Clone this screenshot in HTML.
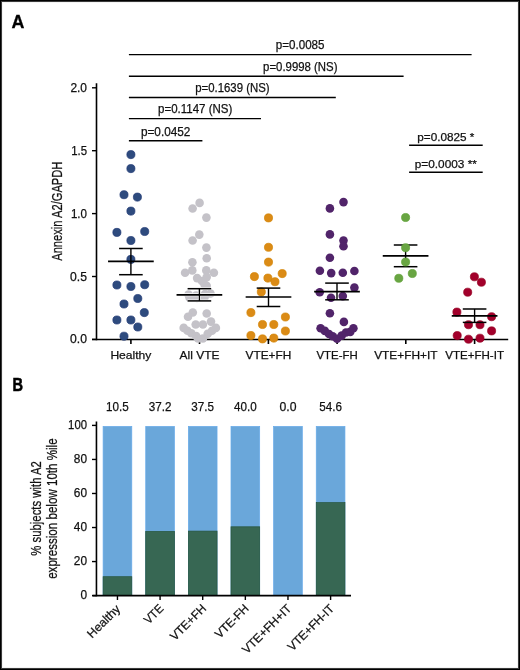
<!DOCTYPE html>
<html><head><meta charset="utf-8"><style>
html,body{margin:0;padding:0;background:#fff;}
body{width:520px;height:670px;overflow:hidden;}
.frame{position:absolute;left:0;top:0;width:520px;height:670px;box-sizing:border-box;border:1px solid #000;box-shadow:inset 0 0 0 1px #3a3a3a, inset 0 0 0 2px #f4f4f4;}
svg{position:absolute;left:0;top:0;will-change:transform;}
svg text{font-family:"Liberation Sans", sans-serif;}
svg text.t{stroke:#111;stroke-width:0.25px;}
</style></head><body>
<svg width="520" height="670" viewBox="0 0 520 670">
<text class="t" x="11.5" y="28.0" font-size="18.3" text-anchor="start" font-weight="bold" fill="#000" textLength="12.9" lengthAdjust="spacingAndGlyphs" style="stroke:#000;stroke-width:0.3px">A</text>
<line x1="128.9" y1="54.6" x2="471.6" y2="54.6" stroke="#000" stroke-width="1.45"/>
<text class="t" x="300.15" y="49.4" font-size="12.1" text-anchor="middle" font-weight="normal" fill="#111" textLength="48.7" lengthAdjust="spacingAndGlyphs">p=0.0085</text>
<line x1="128.9" y1="76.15" x2="403.6" y2="76.15" stroke="#000" stroke-width="1.45"/>
<text class="t" x="300.3" y="70.95" font-size="12.1" text-anchor="middle" font-weight="normal" fill="#111" textLength="74.4" lengthAdjust="spacingAndGlyphs">p=0.9998 (NS)</text>
<line x1="128.9" y1="97.4" x2="335.8" y2="97.4" stroke="#000" stroke-width="1.45"/>
<text class="t" x="232.4" y="92.2" font-size="12.1" text-anchor="middle" font-weight="normal" fill="#111" textLength="74.4" lengthAdjust="spacingAndGlyphs">p=0.1639 (NS)</text>
<line x1="128.9" y1="118.6" x2="261.0" y2="118.6" stroke="#000" stroke-width="1.45"/>
<text class="t" x="195.2" y="113.4" font-size="12.1" text-anchor="middle" font-weight="normal" fill="#111" textLength="74.2" lengthAdjust="spacingAndGlyphs">p=0.1147 (NS)</text>
<line x1="128.9" y1="140.8" x2="202.4" y2="140.8" stroke="#000" stroke-width="1.45"/>
<text class="t" x="165.65" y="135.6" font-size="12.1" text-anchor="middle" font-weight="normal" fill="#111" textLength="49.5" lengthAdjust="spacingAndGlyphs">p=0.0452</text>
<line x1="409.1" y1="145.15" x2="482.7" y2="145.15" stroke="#000" stroke-width="1.45"/>
<text class="t" x="445.8" y="140.8" font-size="10.9" text-anchor="middle" font-weight="normal" fill="#111" textLength="57.1" lengthAdjust="spacingAndGlyphs">p=0.0825 *</text>
<line x1="409.1" y1="172.3" x2="482.7" y2="172.3" stroke="#000" stroke-width="1.45"/>
<text class="t" x="445.8" y="167.7" font-size="10.9" text-anchor="middle" font-weight="normal" fill="#111" textLength="62.1" lengthAdjust="spacingAndGlyphs">p=0.0003 **</text>
<line x1="96.5" y1="83.3" x2="96.5" y2="340.2" stroke="#000" stroke-width="1.6"/>
<line x1="92.0" y1="339.5" x2="508.2" y2="339.5" stroke="#000" stroke-width="1.55"/>
<line x1="92.0" y1="87.79999999999998" x2="96.5" y2="87.79999999999998" stroke="#000" stroke-width="1.4"/>
<text class="t" x="87.0" y="91.8" font-size="12" text-anchor="end" font-weight="normal" fill="#111" textLength="16.6" lengthAdjust="spacingAndGlyphs">2.0</text>
<line x1="92.0" y1="150.7" x2="96.5" y2="150.7" stroke="#000" stroke-width="1.4"/>
<text class="t" x="87.0" y="154.7" font-size="12" text-anchor="end" font-weight="normal" fill="#111" textLength="15.8" lengthAdjust="spacingAndGlyphs">1.5</text>
<line x1="92.0" y1="213.59999999999997" x2="96.5" y2="213.59999999999997" stroke="#000" stroke-width="1.4"/>
<text class="t" x="87.0" y="217.6" font-size="12" text-anchor="end" font-weight="normal" fill="#111" textLength="16.1" lengthAdjust="spacingAndGlyphs">1.0</text>
<line x1="92.0" y1="276.5" x2="96.5" y2="276.5" stroke="#000" stroke-width="1.4"/>
<text class="t" x="87.0" y="280.5" font-size="12" text-anchor="end" font-weight="normal" fill="#111" textLength="16.9" lengthAdjust="spacingAndGlyphs">0.5</text>
<line x1="92.0" y1="339.4" x2="96.5" y2="339.4" stroke="#000" stroke-width="1.4"/>
<text class="t" x="87.0" y="343.4" font-size="12" text-anchor="end" font-weight="normal" fill="#111" textLength="16.9" lengthAdjust="spacingAndGlyphs">0.0</text>
<text class="t" transform="translate(62.2,211.2) rotate(-90)" x="0" y="0" font-size="14.8" text-anchor="middle" fill="#111" textLength="99.2" lengthAdjust="spacingAndGlyphs">Annexin A2/GAPDH</text>
<line x1="130.9" y1="339.5" x2="130.9" y2="344.0" stroke="#000" stroke-width="1.6"/>
<text class="t" x="130.9" y="358.7" font-size="11.5" text-anchor="middle" font-weight="normal" fill="#111" textLength="41.0" lengthAdjust="spacingAndGlyphs">Healthy</text>
<line x1="199.5" y1="339.5" x2="199.5" y2="344.0" stroke="#000" stroke-width="1.6"/>
<text class="t" x="199.5" y="358.7" font-size="11.5" text-anchor="middle" font-weight="normal" fill="#111" textLength="39.8" lengthAdjust="spacingAndGlyphs">All VTE</text>
<line x1="268.4" y1="339.5" x2="268.4" y2="344.0" stroke="#000" stroke-width="1.6"/>
<text class="t" x="268.4" y="358.7" font-size="11.5" text-anchor="middle" font-weight="normal" fill="#111" textLength="45.8" lengthAdjust="spacingAndGlyphs">VTE+FH</text>
<line x1="337.1" y1="339.5" x2="337.1" y2="344.0" stroke="#000" stroke-width="1.6"/>
<text class="t" x="337.1" y="358.7" font-size="11.5" text-anchor="middle" font-weight="normal" fill="#111" textLength="41.2" lengthAdjust="spacingAndGlyphs">VTE-FH</text>
<line x1="405.8" y1="339.5" x2="405.8" y2="344.0" stroke="#000" stroke-width="1.6"/>
<text class="t" x="405.8" y="358.7" font-size="11.5" text-anchor="middle" font-weight="normal" fill="#111" textLength="63.3" lengthAdjust="spacingAndGlyphs">VTE+FH+IT</text>
<line x1="474.6" y1="339.5" x2="474.6" y2="344.0" stroke="#000" stroke-width="1.6"/>
<text class="t" x="474.6" y="358.7" font-size="11.5" text-anchor="middle" font-weight="normal" fill="#111" textLength="58.8" lengthAdjust="spacingAndGlyphs">VTE+FH-IT</text>
<circle cx="130.9" cy="154.6" r="4.05" fill="#2e4b7e" stroke="#1f3874" stroke-width="0.7"/>
<circle cx="130.9" cy="168.6" r="4.05" fill="#2e4b7e" stroke="#1f3874" stroke-width="0.7"/>
<circle cx="124.0" cy="194.7" r="4.05" fill="#2e4b7e" stroke="#1f3874" stroke-width="0.7"/>
<circle cx="137.4" cy="197.1" r="4.05" fill="#2e4b7e" stroke="#1f3874" stroke-width="0.7"/>
<circle cx="130.9" cy="211.1" r="4.05" fill="#2e4b7e" stroke="#1f3874" stroke-width="0.7"/>
<circle cx="116.9" cy="232.4" r="4.05" fill="#2e4b7e" stroke="#1f3874" stroke-width="0.7"/>
<circle cx="144.7" cy="231.5" r="4.05" fill="#2e4b7e" stroke="#1f3874" stroke-width="0.7"/>
<circle cx="130.9" cy="240.5" r="4.05" fill="#2e4b7e" stroke="#1f3874" stroke-width="0.7"/>
<circle cx="130.9" cy="259.4" r="4.05" fill="#2e4b7e" stroke="#1f3874" stroke-width="0.7"/>
<circle cx="116.9" cy="285" r="4.05" fill="#2e4b7e" stroke="#1f3874" stroke-width="0.7"/>
<circle cx="130.9" cy="286.5" r="4.05" fill="#2e4b7e" stroke="#1f3874" stroke-width="0.7"/>
<circle cx="144.7" cy="284.7" r="4.05" fill="#2e4b7e" stroke="#1f3874" stroke-width="0.7"/>
<circle cx="137.8" cy="298.5" r="4.05" fill="#2e4b7e" stroke="#1f3874" stroke-width="0.7"/>
<circle cx="124" cy="304" r="4.05" fill="#2e4b7e" stroke="#1f3874" stroke-width="0.7"/>
<circle cx="144.3" cy="312.6" r="4.05" fill="#2e4b7e" stroke="#1f3874" stroke-width="0.7"/>
<circle cx="116.9" cy="320" r="4.05" fill="#2e4b7e" stroke="#1f3874" stroke-width="0.7"/>
<circle cx="130.9" cy="320" r="4.05" fill="#2e4b7e" stroke="#1f3874" stroke-width="0.7"/>
<circle cx="137.8" cy="327" r="4.05" fill="#2e4b7e" stroke="#1f3874" stroke-width="0.7"/>
<circle cx="124" cy="336.2" r="4.05" fill="#2e4b7e" stroke="#1f3874" stroke-width="0.7"/>
<line x1="108.05000000000001" y1="261.4" x2="153.75" y2="261.4" stroke="#000" stroke-width="1.7"/>
<line x1="119.10000000000001" y1="248.5" x2="142.70000000000002" y2="248.5" stroke="#000" stroke-width="1.5"/>
<line x1="119.10000000000001" y1="274.7" x2="142.70000000000002" y2="274.7" stroke="#000" stroke-width="1.5"/>
<line x1="130.9" y1="248.5" x2="130.9" y2="274.7" stroke="#000" stroke-width="1.4"/>
<circle cx="199.6" cy="202.9" r="4.3" fill="#c4c2c8"/>
<circle cx="192.6" cy="208.5" r="4.3" fill="#c4c2c8"/>
<circle cx="206.4" cy="217.6" r="4.3" fill="#c4c2c8"/>
<circle cx="199.3" cy="234.6" r="4.3" fill="#c4c2c8"/>
<circle cx="192.6" cy="240.5" r="4.3" fill="#c4c2c8"/>
<circle cx="206.4" cy="247.6" r="4.3" fill="#c4c2c8"/>
<circle cx="206.7" cy="258.2" r="4.3" fill="#c4c2c8"/>
<circle cx="192.4" cy="262.2" r="4.3" fill="#c4c2c8"/>
<circle cx="185.1" cy="272.8" r="4.3" fill="#c4c2c8"/>
<circle cx="192.3" cy="270.4" r="4.3" fill="#c4c2c8"/>
<circle cx="206.3" cy="270.4" r="4.3" fill="#c4c2c8"/>
<circle cx="213.9" cy="272.8" r="4.3" fill="#c4c2c8"/>
<circle cx="197.1" cy="278.1" r="4.3" fill="#c4c2c8"/>
<circle cx="206.7" cy="277.1" r="4.3" fill="#c4c2c8"/>
<circle cx="201.9" cy="281" r="4.3" fill="#c4c2c8"/>
<circle cx="206.7" cy="285.8" r="4.3" fill="#c4c2c8"/>
<circle cx="188.5" cy="294.5" r="4.3" fill="#c4c2c8"/>
<circle cx="196" cy="295.5" r="4.3" fill="#c4c2c8"/>
<circle cx="205" cy="294" r="4.3" fill="#c4c2c8"/>
<circle cx="210.5" cy="293.5" r="4.3" fill="#c4c2c8"/>
<circle cx="189.5" cy="297.5" r="4.3" fill="#c4c2c8"/>
<circle cx="197" cy="298" r="4.3" fill="#c4c2c8"/>
<circle cx="204.5" cy="297.5" r="4.3" fill="#c4c2c8"/>
<circle cx="204.5" cy="284.5" r="4.3" fill="#c4c2c8"/>
<circle cx="192.8" cy="312.5" r="4.3" fill="#c4c2c8"/>
<circle cx="188" cy="316.8" r="4.3" fill="#c4c2c8"/>
<circle cx="206.7" cy="313.5" r="4.3" fill="#c4c2c8"/>
<circle cx="211" cy="321.6" r="4.3" fill="#c4c2c8"/>
<circle cx="195.7" cy="324.5" r="4.3" fill="#c4c2c8"/>
<circle cx="202.9" cy="324.5" r="4.3" fill="#c4c2c8"/>
<circle cx="183.7" cy="327.9" r="4.3" fill="#c4c2c8"/>
<circle cx="187.5" cy="330.8" r="4.3" fill="#c4c2c8"/>
<circle cx="191.3" cy="333.2" r="4.3" fill="#c4c2c8"/>
<circle cx="196.2" cy="336" r="4.3" fill="#c4c2c8"/>
<circle cx="198" cy="338.5" r="4.3" fill="#c4c2c8"/>
<circle cx="202.9" cy="338.5" r="4.3" fill="#c4c2c8"/>
<circle cx="207.7" cy="333.7" r="4.3" fill="#c4c2c8"/>
<circle cx="212" cy="330.8" r="4.3" fill="#c4c2c8"/>
<circle cx="215.9" cy="327.9" r="4.3" fill="#c4c2c8"/>
<line x1="176.55" y1="294.8" x2="222.25" y2="294.8" stroke="#fff" stroke-width="2.9"/>
<line x1="187.6" y1="288.7" x2="211.20000000000002" y2="288.7" stroke="#fff" stroke-width="2.7"/>
<line x1="187.6" y1="300.9" x2="211.20000000000002" y2="300.9" stroke="#fff" stroke-width="2.7"/>
<line x1="199.4" y1="288.7" x2="199.4" y2="300.9" stroke="#fff" stroke-width="2.8"/>
<line x1="176.55" y1="294.8" x2="222.25" y2="294.8" stroke="#000" stroke-width="1.7"/>
<line x1="187.6" y1="288.7" x2="211.20000000000002" y2="288.7" stroke="#000" stroke-width="1.5"/>
<line x1="187.6" y1="300.9" x2="211.20000000000002" y2="300.9" stroke="#000" stroke-width="1.5"/>
<line x1="199.4" y1="288.7" x2="199.4" y2="300.9" stroke="#000" stroke-width="1.4"/>
<circle cx="268.5" cy="217.9" r="4.05" fill="#db8b16" stroke="#d38300" stroke-width="0.7"/>
<circle cx="268.5" cy="247.3" r="4.05" fill="#db8b16" stroke="#d38300" stroke-width="0.7"/>
<circle cx="268.5" cy="262.1" r="4.05" fill="#db8b16" stroke="#d38300" stroke-width="0.7"/>
<circle cx="282.2" cy="273.6" r="4.05" fill="#db8b16" stroke="#d38300" stroke-width="0.7"/>
<circle cx="254.4" cy="276.6" r="4.05" fill="#db8b16" stroke="#d38300" stroke-width="0.7"/>
<circle cx="267.9" cy="278.1" r="4.05" fill="#db8b16" stroke="#d38300" stroke-width="0.7"/>
<circle cx="275" cy="281.7" r="4.05" fill="#db8b16" stroke="#d38300" stroke-width="0.7"/>
<circle cx="261.3" cy="291.9" r="4.05" fill="#db8b16" stroke="#d38300" stroke-width="0.7"/>
<circle cx="250.9" cy="312.6" r="4.05" fill="#db8b16" stroke="#d38300" stroke-width="0.7"/>
<circle cx="285.4" cy="317" r="4.05" fill="#db8b16" stroke="#d38300" stroke-width="0.7"/>
<circle cx="262.5" cy="324.5" r="4.05" fill="#db8b16" stroke="#d38300" stroke-width="0.7"/>
<circle cx="273.8" cy="324.5" r="4.05" fill="#db8b16" stroke="#d38300" stroke-width="0.7"/>
<circle cx="285.4" cy="331" r="4.05" fill="#db8b16" stroke="#d38300" stroke-width="0.7"/>
<circle cx="250.9" cy="335.5" r="4.05" fill="#db8b16" stroke="#d38300" stroke-width="0.7"/>
<circle cx="262.5" cy="338.9" r="4.05" fill="#db8b16" stroke="#d38300" stroke-width="0.7"/>
<circle cx="273.8" cy="338.1" r="4.05" fill="#db8b16" stroke="#d38300" stroke-width="0.7"/>
<line x1="245.65" y1="297.0" x2="291.35" y2="297.0" stroke="#000" stroke-width="1.7"/>
<line x1="256.7" y1="288.1" x2="280.3" y2="288.1" stroke="#000" stroke-width="1.5"/>
<line x1="256.7" y1="306.5" x2="280.3" y2="306.5" stroke="#000" stroke-width="1.5"/>
<line x1="268.5" y1="288.1" x2="268.5" y2="306.5" stroke="#000" stroke-width="1.4"/>
<circle cx="343.5" cy="202.1" r="4.3" fill="#51246a"/>
<circle cx="329.9" cy="208.4" r="4.3" fill="#51246a"/>
<circle cx="329.9" cy="234.4" r="4.3" fill="#51246a"/>
<circle cx="343.5" cy="240.5" r="4.3" fill="#51246a"/>
<circle cx="343.5" cy="246.3" r="4.3" fill="#51246a"/>
<circle cx="329.9" cy="257.7" r="4.3" fill="#51246a"/>
<circle cx="319.9" cy="270.8" r="4.3" fill="#51246a"/>
<circle cx="331.2" cy="273.1" r="4.3" fill="#51246a"/>
<circle cx="342.8" cy="272.8" r="4.3" fill="#51246a"/>
<circle cx="354.4" cy="271" r="4.3" fill="#51246a"/>
<circle cx="354.4" cy="287.6" r="4.3" fill="#51246a"/>
<circle cx="319.7" cy="292.3" r="4.3" fill="#51246a"/>
<circle cx="331" cy="297.7" r="4.3" fill="#51246a"/>
<circle cx="342.8" cy="296.1" r="4.3" fill="#51246a"/>
<circle cx="329.9" cy="313.2" r="4.3" fill="#51246a"/>
<circle cx="343.9" cy="321.9" r="4.3" fill="#51246a"/>
<circle cx="320.6" cy="328.2" r="4.3" fill="#51246a"/>
<circle cx="324.8" cy="330.9" r="4.3" fill="#51246a"/>
<circle cx="329" cy="334" r="4.3" fill="#51246a"/>
<circle cx="332.7" cy="336.2" r="4.3" fill="#51246a"/>
<circle cx="337" cy="338.8" r="4.3" fill="#51246a"/>
<circle cx="341.7" cy="335.6" r="4.3" fill="#51246a"/>
<circle cx="346" cy="332.5" r="4.3" fill="#51246a"/>
<circle cx="350.2" cy="331.9" r="4.3" fill="#51246a"/>
<circle cx="353.4" cy="328.2" r="4.3" fill="#51246a"/>
<line x1="314.15" y1="291.6" x2="359.85" y2="291.6" stroke="#000" stroke-width="1.7"/>
<line x1="325.2" y1="283.1" x2="348.8" y2="283.1" stroke="#000" stroke-width="1.5"/>
<line x1="325.2" y1="299.8" x2="348.8" y2="299.8" stroke="#000" stroke-width="1.5"/>
<line x1="337.0" y1="283.1" x2="337.0" y2="299.8" stroke="#000" stroke-width="1.4"/>
<line x1="382.75" y1="255.9" x2="428.45000000000005" y2="255.9" stroke="#000" stroke-width="1.7"/>
<line x1="393.8" y1="245.0" x2="417.40000000000003" y2="245.0" stroke="#000" stroke-width="1.5"/>
<line x1="393.8" y1="266.7" x2="417.40000000000003" y2="266.7" stroke="#000" stroke-width="1.5"/>
<line x1="405.6" y1="245.0" x2="405.6" y2="266.7" stroke="#000" stroke-width="1.4"/>
<circle cx="405.6" cy="217.5" r="4.05" fill="#69a543" stroke="#5ca032" stroke-width="0.7"/>
<circle cx="405.6" cy="247.7" r="4.05" fill="#69a543" stroke="#5ca032" stroke-width="0.7"/>
<circle cx="405.6" cy="262" r="4.05" fill="#69a543" stroke="#5ca032" stroke-width="0.7"/>
<circle cx="412.3" cy="273.5" r="4.05" fill="#69a543" stroke="#5ca032" stroke-width="0.7"/>
<circle cx="398.8" cy="278.3" r="4.05" fill="#69a543" stroke="#5ca032" stroke-width="0.7"/>
<circle cx="474.4" cy="276.8" r="4.05" fill="#a2002b" stroke="#950023" stroke-width="0.7"/>
<circle cx="481.4" cy="282.2" r="4.05" fill="#a2002b" stroke="#950023" stroke-width="0.7"/>
<circle cx="467.7" cy="292.2" r="4.05" fill="#a2002b" stroke="#950023" stroke-width="0.7"/>
<circle cx="456.9" cy="312.1" r="4.05" fill="#a2002b" stroke="#950023" stroke-width="0.7"/>
<circle cx="491.6" cy="316.7" r="4.05" fill="#a2002b" stroke="#950023" stroke-width="0.7"/>
<circle cx="468.5" cy="324.7" r="4.05" fill="#a2002b" stroke="#950023" stroke-width="0.7"/>
<circle cx="480" cy="324.7" r="4.05" fill="#a2002b" stroke="#950023" stroke-width="0.7"/>
<circle cx="491.6" cy="330.9" r="4.05" fill="#a2002b" stroke="#950023" stroke-width="0.7"/>
<circle cx="457.2" cy="335.6" r="4.05" fill="#a2002b" stroke="#950023" stroke-width="0.7"/>
<circle cx="468.5" cy="339.2" r="4.05" fill="#a2002b" stroke="#950023" stroke-width="0.7"/>
<circle cx="480" cy="338.2" r="4.05" fill="#a2002b" stroke="#950023" stroke-width="0.7"/>
<line x1="451.75" y1="315.9" x2="497.45000000000005" y2="315.9" stroke="#000" stroke-width="1.7"/>
<line x1="462.8" y1="309.0" x2="486.40000000000003" y2="309.0" stroke="#000" stroke-width="1.5"/>
<line x1="462.8" y1="322.4" x2="486.40000000000003" y2="322.4" stroke="#000" stroke-width="1.5"/>
<line x1="474.6" y1="309.0" x2="474.6" y2="322.4" stroke="#000" stroke-width="1.4"/>
<text class="t" x="12.6" y="390.5" font-size="18.3" text-anchor="start" font-weight="bold" fill="#000" textLength="10.5" lengthAdjust="spacingAndGlyphs" style="stroke:#000;stroke-width:0.6px">B</text>
<line x1="92.0" y1="425.40000000000003" x2="96.45" y2="425.40000000000003" stroke="#000" stroke-width="1.4"/>
<text class="t" x="87.0" y="429.1" font-size="12.8" text-anchor="end" font-weight="normal" fill="#111" textLength="18.9" lengthAdjust="spacingAndGlyphs">100</text>
<line x1="92.0" y1="459.44000000000005" x2="96.45" y2="459.44000000000005" stroke="#000" stroke-width="1.4"/>
<text class="t" x="87.0" y="463.14" font-size="12.8" text-anchor="end" font-weight="normal" fill="#111" textLength="13.2" lengthAdjust="spacingAndGlyphs">80</text>
<line x1="92.0" y1="493.48" x2="96.45" y2="493.48" stroke="#000" stroke-width="1.4"/>
<text class="t" x="87.0" y="497.18" font-size="12.8" text-anchor="end" font-weight="normal" fill="#111" textLength="13.2" lengthAdjust="spacingAndGlyphs">60</text>
<line x1="92.0" y1="527.52" x2="96.45" y2="527.52" stroke="#000" stroke-width="1.4"/>
<text class="t" x="87.0" y="531.22" font-size="12.8" text-anchor="end" font-weight="normal" fill="#111" textLength="13.2" lengthAdjust="spacingAndGlyphs">40</text>
<line x1="92.0" y1="561.5600000000001" x2="96.45" y2="561.5600000000001" stroke="#000" stroke-width="1.4"/>
<text class="t" x="87.0" y="565.26" font-size="12.8" text-anchor="end" font-weight="normal" fill="#111" textLength="13.2" lengthAdjust="spacingAndGlyphs">20</text>
<line x1="92.0" y1="595.6" x2="96.45" y2="595.6" stroke="#000" stroke-width="1.4"/>
<text class="t" x="87.0" y="599.3" font-size="12.8" text-anchor="end" font-weight="normal" fill="#111" textLength="6.6" lengthAdjust="spacingAndGlyphs">0</text>
<rect x="103.10" y="426.40" width="28.7" height="169.20" fill="#6aa7da" stroke="#66aaea" stroke-width="0.7"/>
<rect x="103.10" y="576.70" width="28.7" height="18.90" fill="#376753" stroke="#27553c" stroke-width="0.7"/>
<line x1="117.44999999999999" y1="595.6" x2="117.44999999999999" y2="600.0" stroke="#000" stroke-width="1.4"/>
<text class="t" x="117.45" y="410.5" font-size="12.8" text-anchor="middle" font-weight="normal" fill="#111" textLength="22.7" lengthAdjust="spacingAndGlyphs">10.5</text>
<text class="t" transform="translate(121.05,609.8) rotate(-45)" x="0" y="0" font-size="12.1" text-anchor="end" fill="#111" textLength="41.0" lengthAdjust="spacingAndGlyphs">Healthy</text>
<rect x="145.73" y="426.40" width="28.7" height="169.20" fill="#6aa7da" stroke="#66aaea" stroke-width="0.7"/>
<rect x="145.73" y="531.40" width="28.7" height="64.20" fill="#376753" stroke="#27553c" stroke-width="0.7"/>
<line x1="160.07999999999998" y1="595.6" x2="160.07999999999998" y2="600.0" stroke="#000" stroke-width="1.4"/>
<text class="t" x="160.08" y="410.5" font-size="12.8" text-anchor="middle" font-weight="normal" fill="#111" textLength="22.7" lengthAdjust="spacingAndGlyphs">37.2</text>
<text class="t" transform="translate(164.28,609.3) rotate(-45)" x="0" y="0" font-size="12.1" text-anchor="end" fill="#111" textLength="21.9" lengthAdjust="spacingAndGlyphs">VTE</text>
<rect x="188.36" y="426.40" width="28.7" height="169.20" fill="#6aa7da" stroke="#66aaea" stroke-width="0.7"/>
<rect x="188.36" y="531.10" width="28.7" height="64.50" fill="#376753" stroke="#27553c" stroke-width="0.7"/>
<line x1="202.71" y1="595.6" x2="202.71" y2="600.0" stroke="#000" stroke-width="1.4"/>
<text class="t" x="202.71" y="410.5" font-size="12.8" text-anchor="middle" font-weight="normal" fill="#111" textLength="22.7" lengthAdjust="spacingAndGlyphs">37.5</text>
<text class="t" transform="translate(206.91,609.3) rotate(-45)" x="0" y="0" font-size="12.1" text-anchor="end" fill="#111" textLength="45.1" lengthAdjust="spacingAndGlyphs">VTE+FH</text>
<rect x="230.99" y="426.40" width="28.7" height="169.20" fill="#6aa7da" stroke="#66aaea" stroke-width="0.7"/>
<rect x="230.99" y="526.80" width="28.7" height="68.80" fill="#376753" stroke="#27553c" stroke-width="0.7"/>
<line x1="245.34" y1="595.6" x2="245.34" y2="600.0" stroke="#000" stroke-width="1.4"/>
<text class="t" x="245.34" y="410.5" font-size="12.8" text-anchor="middle" font-weight="normal" fill="#111" textLength="22.7" lengthAdjust="spacingAndGlyphs">40.0</text>
<text class="t" transform="translate(249.54,609.3) rotate(-45)" x="0" y="0" font-size="12.1" text-anchor="end" fill="#111" textLength="42.1" lengthAdjust="spacingAndGlyphs">VTE-FH</text>
<rect x="273.62" y="426.40" width="28.7" height="169.20" fill="#6aa7da" stroke="#66aaea" stroke-width="0.7"/>
<line x1="287.97" y1="595.6" x2="287.97" y2="600.0" stroke="#000" stroke-width="1.4"/>
<text class="t" x="287.97" y="410.5" font-size="12.8" text-anchor="middle" font-weight="normal" fill="#111" textLength="17.0" lengthAdjust="spacingAndGlyphs">0.0</text>
<text class="t" transform="translate(292.17,609.3) rotate(-45)" x="0" y="0" font-size="12.1" text-anchor="end" fill="#111" textLength="63.9" lengthAdjust="spacingAndGlyphs">VTE+FH+IT</text>
<rect x="316.25" y="426.40" width="28.7" height="169.20" fill="#6aa7da" stroke="#66aaea" stroke-width="0.7"/>
<rect x="316.25" y="502.60" width="28.7" height="93.00" fill="#376753" stroke="#27553c" stroke-width="0.7"/>
<line x1="330.6" y1="595.6" x2="330.6" y2="600.0" stroke="#000" stroke-width="1.4"/>
<text class="t" x="330.6" y="410.5" font-size="12.8" text-anchor="middle" font-weight="normal" fill="#111" textLength="22.7" lengthAdjust="spacingAndGlyphs">54.6</text>
<text class="t" transform="translate(334.80,609.3) rotate(-45)" x="0" y="0" font-size="12.1" text-anchor="end" fill="#111" textLength="59.9" lengthAdjust="spacingAndGlyphs">VTE+FH-IT</text>
<line x1="96.45" y1="421.5" x2="96.45" y2="596.3" stroke="#000" stroke-width="1.6"/>
<line x1="92.5" y1="595.6" x2="351.0" y2="595.6" stroke="#000" stroke-width="1.6"/>
<text class="t" transform="translate(40.6,508.4) rotate(-90)" x="0" y="0" font-size="15" text-anchor="middle" fill="#111" textLength="94.5" lengthAdjust="spacingAndGlyphs">% subjects with A2</text>
<text class="t" transform="translate(57.4,508.6) rotate(-90)" x="0" y="0" font-size="15" text-anchor="middle" fill="#111" textLength="140.5" lengthAdjust="spacingAndGlyphs">expression below 10th %ile</text>
</svg>
<div class="frame"></div>
</body></html>
